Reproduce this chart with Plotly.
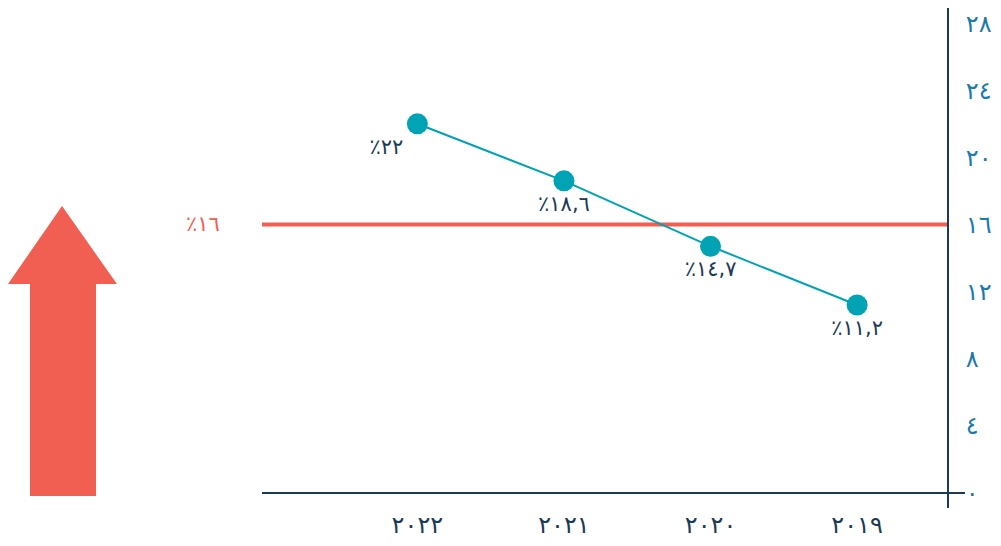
import plotly.graph_objects as go

# ---- data ----
years = ["2019", "2020", "2021", "2022"]
values = [11.2, 14.7, 18.6, 22.0]
target = 16
y_ticks = [0, 4, 8, 12, 16, 20, 24, 28]

AR = str.maketrans("0123456789", "٠١٢٣٤٥٦٧٨٩")


def ar(s):
    return str(s).translate(AR)


def pct_label(v):
    s = ("%g" % v).replace(".", ",")
    return "٪" + ar(s)


TEAL = "#00a3b4"
NAVY = "#1b3a57"
TICKBLUE = "#1a7aa8"
RED = "#f05f51"
FONT = "DejaVu Sans"

x_idx = list(range(len(years)))

fig = go.Figure()
fig.add_trace(go.Scatter(
    x=x_idx, y=values, mode="lines+markers+text",
    line=dict(color=TEAL, width=2),
    marker=dict(color=TEAL, size=21),
    text=[pct_label(v) for v in values],
    textposition=["bottom center", "bottom center", "bottom center", "bottom left"],
    textfont=dict(family=FONT, size=21, color=NAVY),
    cliponaxis=False, hoverinfo="skip", showlegend=False,
))

# target line
fig.add_shape(type="line", xref="paper", yref="y", x0=0, x1=1, y0=target, y1=target,
              line=dict(color=RED, width=4), layer="below")
fig.add_annotation(xref="paper", yref="y", x=-0.086, y=target, xanchor="center",
                   text=pct_label(target),
                   showarrow=False, font=dict(family=FONT, size=21, color=RED))

# axis lines
fig.add_shape(type="line", xref="paper", yref="paper", x0=0, x1=1.0248, y0=0, y1=0,
              line=dict(color=NAVY, width=2))
fig.add_shape(type="line", xref="paper", yref="paper", x0=1, x1=1, y0=-0.031, y1=1,
              line=dict(color=NAVY, width=2))

# decorative arrow
fig.add_shape(type="path", xref="paper", yref="paper",
              path="M -0.2915 0.5918 L -0.2114 0.4309 L -0.2420 0.4309 L -0.2420 -0.0062 "
                   "L -0.3382 -0.0062 L -0.3382 0.4309 L -0.3703 0.4309 Z",
              fillcolor=RED, line=dict(width=0))

fig.update_layout(
    width=993, height=538,
    margin=dict(l=254, r=53, t=0, b=53),
    plot_bgcolor="white", paper_bgcolor="white",
    xaxis=dict(range=[4.06, -0.62], tickvals=x_idx, ticktext=[ar(y) for y in years],
               showgrid=False, zeroline=False, showline=False, automargin=False,
               ticks="outside", ticklen=0, ticklabelstandoff=10,
               ticklabeloverflow="allow",
               tickfont=dict(family=FONT, size=24, color=NAVY)),
    yaxis=dict(range=[0, 28.9], side="right", tickvals=y_ticks,
               ticktext=[ar(t) for t in y_ticks],
               showgrid=False, zeroline=False, showline=False, automargin=False,
               ticks="outside", ticklen=0, ticklabelstandoff=12,
               ticklabeloverflow="allow",
               tickfont=dict(family=FONT, size=24, color=TICKBLUE)),
)

fig.write_html("out.html")
